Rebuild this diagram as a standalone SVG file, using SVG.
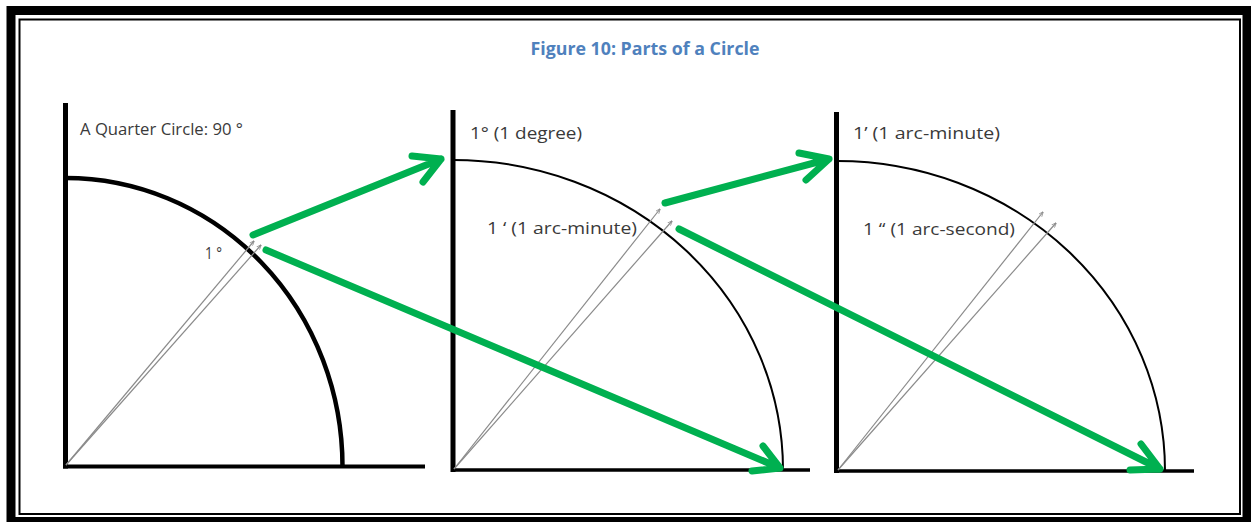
<svg xmlns="http://www.w3.org/2000/svg" width="1251" height="522" viewBox="0 0 1251 522">
<defs>
<style>
.lbl{font-family:"Open Sans","Liberation Sans",sans-serif;font-size:16px;fill:#3a3a3a}
.title{font-family:"Open Sans","Liberation Sans",sans-serif;font-size:18px;font-weight:bold;fill:#4F81BD}
.axis{stroke:#000;fill:none;stroke-linecap:butt}
.arc{stroke:#000;fill:none}
.ray{stroke:#8a8a8a;stroke-width:1.2;fill:none;marker-end:url(#tip)}
.grn{stroke:#00B050;stroke-width:7;fill:none;stroke-linecap:round;stroke-linejoin:round}
</style>
<marker id="tip" viewBox="0 0 10 10" refX="9" refY="5" markerWidth="5" markerHeight="5" orient="auto" markerUnits="userSpaceOnUse">
<path d="M0,1 L10,5 L0,9" fill="none" stroke="#8a8a8a" stroke-width="1.5"/>
</marker>
</defs>
<rect x="0" y="0" width="1251" height="522" fill="#fff"/>
<g id="frame">
<rect x="11" y="10.5" width="1236" height="511" fill="none" stroke="#000" stroke-width="9"/>
<rect x="19.5" y="19.5" width="1220.5" height="494.5" fill="none" stroke="#000" stroke-width="2"/>
</g>
<text id="title" class="title" x="645" y="55" text-anchor="middle" textLength="229" lengthAdjust="spacingAndGlyphs">Figure 10: Parts of a Circle</text>
<g id="panel1">
<line class="axis" x1="65.5" y1="103" x2="65.5" y2="468.5" stroke-width="5"/>
<line class="axis" x1="63" y1="466.5" x2="425" y2="466.5" stroke-width="4"/>
<path class="arc" d="M65.5,178 A277,288.5 0 0 1 342.5,466.5" stroke-width="4.5"/>
<line class="ray" x1="66" y1="465" x2="254" y2="241"/>
<line class="ray" x1="66" y1="465" x2="261" y2="245"/>
<text class="lbl" x="80" y="135" textLength="163" lengthAdjust="spacingAndGlyphs">A Quarter Circle: 90 °</text>
<text class="lbl" x="205" y="259" textLength="17" lengthAdjust="spacingAndGlyphs">1 °</text>
</g>
<g id="panel2">
<line class="axis" x1="453" y1="110" x2="453" y2="472" stroke-width="5"/>
<line class="axis" x1="451" y1="470" x2="810" y2="470" stroke-width="3.5"/>
<path class="arc" d="M453,160 A330,310 0 0 1 783,470" stroke-width="2"/>
<line class="ray" x1="454" y1="469" x2="660" y2="209"/>
<line class="ray" x1="454" y1="469" x2="672" y2="221"/>
<text class="lbl" x="470" y="139" textLength="112" lengthAdjust="spacingAndGlyphs">1° (1 degree)</text>
<text class="lbl" x="487" y="234" textLength="150" lengthAdjust="spacingAndGlyphs">1 ‘ (1 arc-minute)</text>
</g>
<g id="panel3">
<line class="axis" x1="836.5" y1="112" x2="836.5" y2="473" stroke-width="5"/>
<line class="axis" x1="835" y1="471" x2="1194" y2="471" stroke-width="3.5"/>
<path class="arc" d="M837,161 A328,310 0 0 1 1165,471" stroke-width="2"/>
<line class="ray" x1="838" y1="470" x2="1043" y2="212"/>
<line class="ray" x1="838" y1="470" x2="1056" y2="223"/>
<text class="lbl" x="853" y="139" textLength="147" lengthAdjust="spacingAndGlyphs">1’ (1 arc-minute)</text>
<text class="lbl" x="863" y="235" textLength="152" lengthAdjust="spacingAndGlyphs">1 “ (1 arc-second)</text>
</g>
<g id="connectors">
<path class="grn" d="M253,235 L441,159 M412,156 L441,159 L423,182"/>
<path class="grn" d="M266,250 L780,468 M752,471 L780,468 L763,446"/>
<path class="grn" d="M665,203 L829,159 M799,153 L829,159 L806,180"/>
<path class="grn" d="M679,229 L1160,469 M1130,470 L1160,469 L1141,444"/>
</g>
</svg>
